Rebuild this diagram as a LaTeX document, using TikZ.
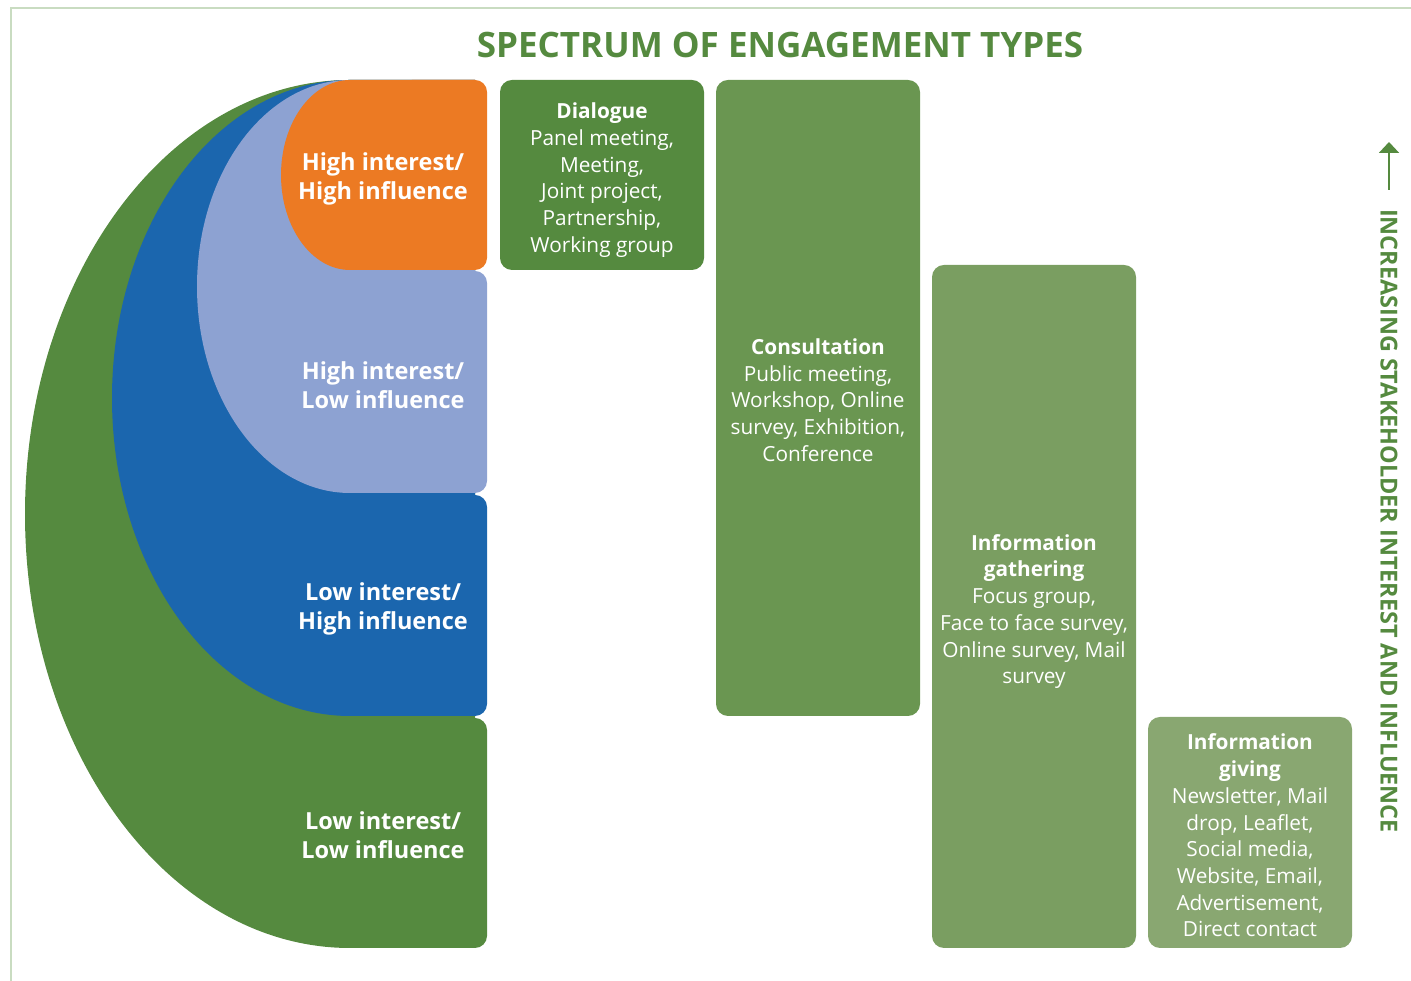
\documentclass[tikz,border=0pt]{standalone}
\usepackage{fontspec}
\setmainfont{Open Sans}
\usetikzlibrary{arrows.meta}
\definecolor{framegreen}{HTML}{C9DCC1}
\definecolor{titlegreen}{HTML}{558A3F}
\definecolor{lowlow}{HTML}{558A3F}
\definecolor{lowhigh}{HTML}{1B66AE}
\definecolor{highlow}{HTML}{8DA2D2}
\definecolor{highhigh}{HTML}{EC7A23}
\definecolor{dialoguefill}{HTML}{558A3F}
\definecolor{consultfill}{HTML}{6A9651}
\definecolor{gatherfill}{HTML}{7A9E61}
\definecolor{givefill}{HTML}{89A771}
\begin{document}
\begin{tikzpicture}[x=1pt,y=1pt,
  typebox/.style={rectangle, rounded corners=12, minimum width=204, minimum height=#1, inner sep=0, text=white, align=center, font=\fontsize{20.8}{26.7}\selectfont},
  grouplabel/.style={text=white, align=center, font=\bfseries\fontsize{23.5}{29.5}\selectfont}]
\useasboundingbox (0,0) rectangle (1411,981);
\draw[framegreen, line width=1.2] (11,0) -- (11,973) -- (1411,973);
% stakeholder groups
\fill[lowlow] (350,901) arc[start angle=90, end angle=270, x radius=325, y radius=434] -- (475,33) -- (475,901) -- cycle;
\fill[lowlow, rounded corners=12] (400,33) rectangle (487,263);
\fill[lowhigh] (350,901) arc[start angle=90, end angle=270, x radius=238, y radius=318] -- (475,265) -- (475,901) -- cycle;
\fill[lowhigh, rounded corners=12] (400,265) rectangle (487,486);
\fill[highlow] (350,901) arc[start angle=90, end angle=270, x radius=153, y radius=206.5] -- (475,488) -- (475,901) -- cycle;
\fill[highlow, rounded corners=12] (400,488) rectangle (487,710);
\fill[highhigh] (350,901) arc[start angle=90, end angle=270, x radius=69, y radius=95] -- (475,711) -- (475,901) -- cycle;
\fill[highhigh, rounded corners=12] (400,711) rectangle (487,901);
\node[grouplabel] (hihi) at (383,802) {High interest/\\High influence};
\node[grouplabel] (hilo) at (383,596) {High interest/\\Low influence};
\node[grouplabel] (lohi) at (383,372) {Low interest/\\High influence};
\node[grouplabel] (lolo) at (383,146) {Low interest/\\Low influence};
% engagement types
\node[text=titlegreen, font=\bfseries\fontsize{35}{40}\selectfont] (title) at (780,936) {SPECTRUM OF ENGAGEMENT TYPES};
\node[typebox=190, fill=dialoguefill] (dialogue) at (602,806) {\rule{0pt}{26pt}\textbf{Dialogue}\\Panel meeting,\\Meeting,\\Joint project,\\Partnership,\\Working group};
\node[typebox=636, fill=consultfill] (consult) at (818,583) {\rule{0pt}{20pt}\textbf{Consultation}\\Public meeting,\\Workshop, Online\\survey, Exhibition,\\Conference};
\node[typebox=683, fill=gatherfill] (gather) at (1034,374.5) {\rule{0pt}{26pt}\textbf{Information}\\\textbf{gathering}\\Focus group,\\Face to face survey,\\Online survey, Mail\\survey};
\node[typebox=231, fill=givefill] (give) at (1250,148.5) {\rule{0pt}{22pt}\textbf{Information}\\\textbf{giving}\\Newsletter, Mail\\drop, Leaflet,\\Social media,\\Website, Email,\\Advertisement,\\Direct contact};
% axis
\node[text=titlegreen, rotate=-90, font=\bfseries\fontsize{23.4}{27}\selectfont] (axis) at (1389,460) {INCREASING STAKEHOLDER INTEREST AND INFLUENCE};
\coordinate (arrowfoot) at (1389,791);
\coordinate (arrowtip) at (1389,839);
\draw[titlegreen, line width=2, -{Triangle[width=20,length=11]}] (arrowfoot) -- (arrowtip);
\end{tikzpicture}
\end{document}
